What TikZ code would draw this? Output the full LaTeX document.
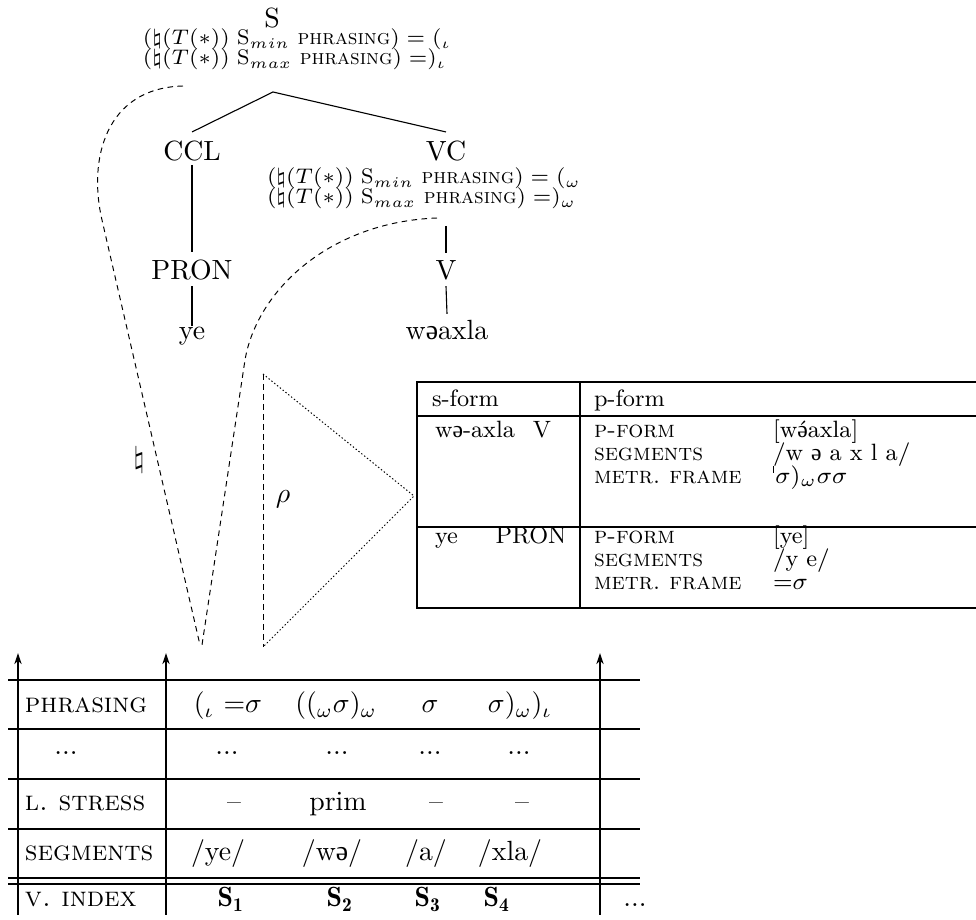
\documentclass[tikz,border=0pt]{standalone}
\usepackage{fix-cm}
\usepackage{fontspec}
\newfontfamily\ipafont{Liberation Serif}
\usetikzlibrary{arrows.meta}
\newcommand{\shw}{{\ipafont ə}}
\newcommand{\shwacute}{\ooalign{{\ipafont ə}\cr\hidewidth\textasciiacute\hidewidth\cr}}
\newcommand{\annmin}[1]{$(\natural(T(*))$ S$_{min}$ \textsc{phrasing}$) = (_{#1}$}
\newcommand{\annmax}[1]{$(\natural(T(*))$ S$_{max}$ \textsc{phrasing}$) = )_{#1}$}
\begin{document}
\begin{tikzpicture}[x=0.36pt,y=-0.36pt,
  every node/.style={inner sep=0pt,outer sep=0pt},
  tl/.style={font=\fontsize{10}{12}\selectfont,anchor=base},
  an/.style={font=\fontsize{7.6}{7.6}\selectfont,anchor=base west},
  tb/.style={font=\fontsize{8.5}{10}\selectfont,anchor=base west},
  bt/.style={font=\fontsize{10}{12}\selectfont,anchor=base},
  btl/.style={font=\fontsize{10}{12}\selectfont,anchor=base west},
  br/.style={line width=0.4pt},
  dsh/.style={dash pattern=on 2pt off 1.6pt,line width=0.35pt},
  dtt/.style={dash pattern=on 0.5pt off 0.8pt,line width=0.35pt},
  uparr/.style={-{Stealth[length=4pt,width=2.6pt]},line width=0.4pt},
  rtab/.style={line width=0.7pt},
  rtabthin/.style={line width=0.5pt},
  hrule/.style={line width=0.7pt},
  hrulethin/.style={line width=0.5pt},
]
\useasboundingbox (0,0) rectangle (976,920);
\clip (0,0) rectangle (976,920);

% ---------------- tree ----------------
\node[tl] (S) at (272,28) {S};
\node[an] (Sann1) at (143,45) {\annmin{\iota}};
\node[an] (Sann2) at (143,65) {\annmax{\iota}};
\coordinate (Sapex) at (273,92);
\node[tl] (CCL) at (192,161) {CCL};
\node[tl] (VC) at (446,161) {VC};
\node[an] (VCann1) at (267,184) {\annmin{\omega}};
\node[an] (VCann2) at (267,204) {\annmax{\omega}};
\node[tl] (PRON) at (192,280) {PRON};
\node[tl] (V) at (446,280) {V};
\node[tl] (ye) at (192,340) {ye};
\node[tl] (wax) at (447,340) {w\shw axla};

\draw[br] (Sapex) -- ([yshift=3.4pt]CCL.north);
\draw[br] (Sapex) -- ([yshift=3.4pt]VC.north);
\draw[br] ([yshift=-1.2pt]CCL.south) -- ([yshift=3pt]PRON.north);
\draw[br] ([yshift=-2pt]PRON.south) -- ([yshift=0.5pt]ye.north);
\draw[br] ([yshift=-6pt]V.north |- VCann2.south) -- ([yshift=3pt]V.north);
\draw[br] ([yshift=-2pt]V.south) -- ([yshift=2.5pt]wax.north);

% ---------------- dashed curves ----------------
\coordinate (c1s) at (183,86);
\coordinate (c1m) at (102,220);
\coordinate (c2s) at (437,218);
\coordinate (c2m) at (245,360);
\coordinate (cend1) at (200,645);
\coordinate (cend2) at (202,645);
\draw[dsh] (c1s) .. controls (105,88) and (88,160) .. (c1m) -- (cend1);
\draw[dsh] (c2s) .. controls (330,222) and (257,290) .. (c2m) -- (cend2);
\node[font=\fontsize{10.5}{12}\selectfont] (nat) at (139,460) {$\natural$};

% ---------------- rho triangle ----------------
\coordinate (t1) at (263,374);
\coordinate (t2) at (263,647);
\coordinate (t3) at (414,496);
\draw[dsh] (t1) -- (t2);
\draw[dtt] (t1) -- (t3) -- (t2);
\node[font=\fontsize{10}{12}\selectfont] (rho) at (283,499) {$\rho$};

% ---------------- right lexicon table ----------------
\draw[rtab] (990,382) -- (417,382) -- (417,608) -- (990,608);
\draw[rtab] (417,416) -- (990,416);
\draw[rtabthin] (417,527) -- (990,527);
\draw[rtabthin] (580,382) -- (580,608);
\node[tb] (sf) at (432,407) {s-form};
\node[tb] (pf) at (594,407) {p-form};
\node[tb] (w1) at (435,438) {w\shw-axla};
\node[tb,anchor=base] (w1c) at (542,438) {V};
\node[tb] (w1a) at (594,438) {\textsc{p-form}};
\node[tb] (w1b) at (773,438) {[w\shwacute axla]};
\node[tb] (w2a) at (594,461) {\textsc{segments}};
\node[tb] (w2b) at (773,461) {$/$w \shw{} a x l a$/$};
\node[tb] (w3a) at (594,484) {\textsc{metr.\ frame}};
\node[tb] (w3b) at (773,484) {\rule[0.48em]{0.35pt}{0.28em}\kern0.5pt$\sigma)_\omega\sigma\sigma$};
\node[tb] (y1) at (435,544) {ye};
\node[tb,anchor=base] (y1c) at (531,544) {PRON};
\node[tb] (y1a) at (594,544) {\textsc{p-form}};
\node[tb] (y1b) at (773,544) {[ye]};
\node[tb] (y2a) at (594,567) {\textsc{segments}};
\node[tb] (y2b) at (773,567) {$/$y e$/$};
\node[tb] (y3a) at (594,590) {\textsc{metr.\ frame}};
\node[tb] (y3b) at (773,590) {${=}\sigma$};

% ---------------- bottom table ----------------
\draw[hrule] (8,680) -- (640,680);
\draw[hrule,line width=0.85pt] (8,729) -- (640,729);
\draw[hrule,line width=0.85pt] (8,779) -- (640,779);
\draw[hrulethin,line width=0.6pt] (8,829) -- (640,829);
\draw[hrulethin] (8,878) -- (640,878);
\draw[hrulethin] (8,884) -- (640,884);

\coordinate (a1b) at (18,915);  \coordinate (a1t) at (18,653);
\coordinate (a2b) at (166,915); \coordinate (a2t) at (166,653);
\coordinate (a3b) at (600,915); \coordinate (a3t) at (600,653);
\draw[uparr] (a1b) -- (a1t);
\draw[uparr] (a2b) -- (a2t);
\draw[uparr] (a3b) -- (a3t);

\node[btl] (lph) at (25,713) {\textsc{phrasing}};
\node[bt] (ldo) at (66,755) {...};
\node[btl] (lls) at (25,811) {\textsc{l.\ stress}};
\node[btl] (lsg) at (25,861) {\textsc{segments}};
\node[btl] (lvi) at (25,907) {\textsc{v.\ index}};

\node[bt] (p1) at (228,713) {$(_\iota\ {=}\sigma$};
\node[bt] (p2) at (336,713) {$((_\omega\sigma)_\omega$};
\node[bt] (p3) at (430,713) {$\sigma$};
\node[bt] (p4) at (520,713) {$\sigma)_\omega)_\iota$};

\node[bt] (d1) at (227,755) {...};
\node[bt] (d2) at (337,755) {...};
\node[bt] (d3) at (430,755) {...};
\node[bt] (d4) at (519,755) {...};

\node[bt] (s1) at (234,811) {--};
\node[bt] (s2) at (338,811) {prim};
\node[bt] (s3) at (436,811) {--};
\node[bt] (s4) at (522,811) {--};

\node[bt] (g1) at (218,861) {$/$ye$/$};
\node[bt] (g2) at (332,861) {$/$w\shw$/$};
\node[bt] (g3) at (426,861) {$/$a$/$};
\node[bt] (g4) at (510,861) {$/$xla$/$};

\node[bt] (v1) at (231,907) {$\mathbf{S_1}$};
\node[bt] (v2) at (340,907) {$\mathbf{S_2}$};
\node[bt] (v3) at (428,907) {$\mathbf{S_3}$};
\node[bt] (v4) at (497,907) {$\mathbf{S_4}$};
\node[bt] (vd) at (635,907) {...};
\end{tikzpicture}
\end{document}
